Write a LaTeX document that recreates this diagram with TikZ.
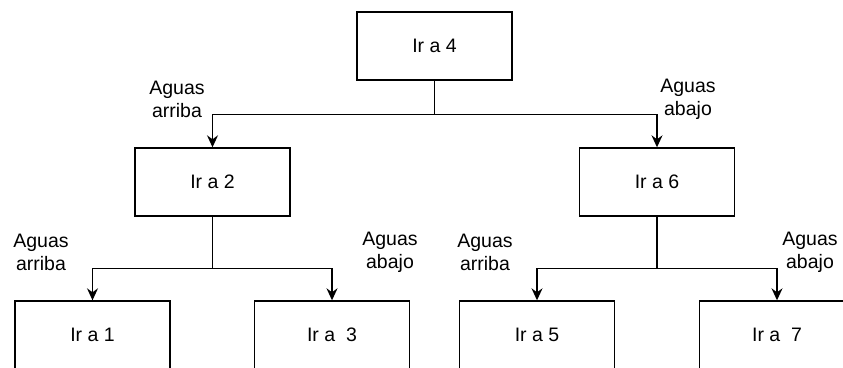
\documentclass[tikz,border=0pt]{standalone}
\usepackage{fontspec}
\setmainfont{Liberation Sans}
\usetikzlibrary{arrows.meta}
\begin{document}
\begin{tikzpicture}[x=1pt,y=-1pt,
  box/.style={draw=black,line width=1.4pt,minimum width=155pt,minimum height=68pt,inner sep=0pt,
    font=\fontsize{19.5}{23}\selectfont},
  lbl/.style={align=center,inner sep=0pt,font=\fontsize{19.5}{23}\selectfont},
  line/.style={line width=1.4pt},
  conn/.style={line width=1.4pt,-{Stealth[length=12pt,width=11pt,inset=4pt]}}]
\useasboundingbox (0,0) rectangle (843,367);
\clip (0,0) rectangle (843,367);
\node[box] (n4) at (434.5,46) {Ir a 4};
\node[box] (n2) at (212.5,182) {Ir a 2};
\node[box] (n6) at (657,182) {Ir a 6};
\node[box] (n1) at (92.5,335) {Ir a 1};
\node[box] (n3) at (332,335) {Ir a\ \ 3};
\node[box] (n5) at (537,335) {Ir a 5};
\node[box] (n7) at (777,335) {Ir a\ \ 7};
\node[lbl] (l1) at (177,99) {Aguas\\arriba};
\node[lbl] (l2) at (688,99) {Aguas\\abajo};
\node[lbl] (l3) at (41,252) {Aguas\\arriba};
\node[lbl] (l4) at (390,252) {Aguas\\abajo};
\node[lbl] (l5) at (485,252) {Aguas\\arriba};
\node[lbl] (l6) at (810,252) {Aguas\\abajo};
\path (n4.south) -- ++(0,34) coordinate (j4);
\path (n2.south) -- ++(0,52) coordinate (j2);
\path (n6.south) -- ++(0,52) coordinate (j6);
\draw[line] (n4.south) -- (j4);
\draw[line] (n2.south) -- (j2);
\draw[line] (n6.south) -- (j6);
\draw[conn] (j4) -| (n2.north);
\draw[conn] (j4) -| (n6.north);
\draw[conn] (j2) -| (n1.north);
\draw[conn] (j2) -| (n3.north);
\draw[conn] (j6) -| (n5.north);
\draw[conn] (j6) -| (n7.north);
\end{tikzpicture}
\end{document}
